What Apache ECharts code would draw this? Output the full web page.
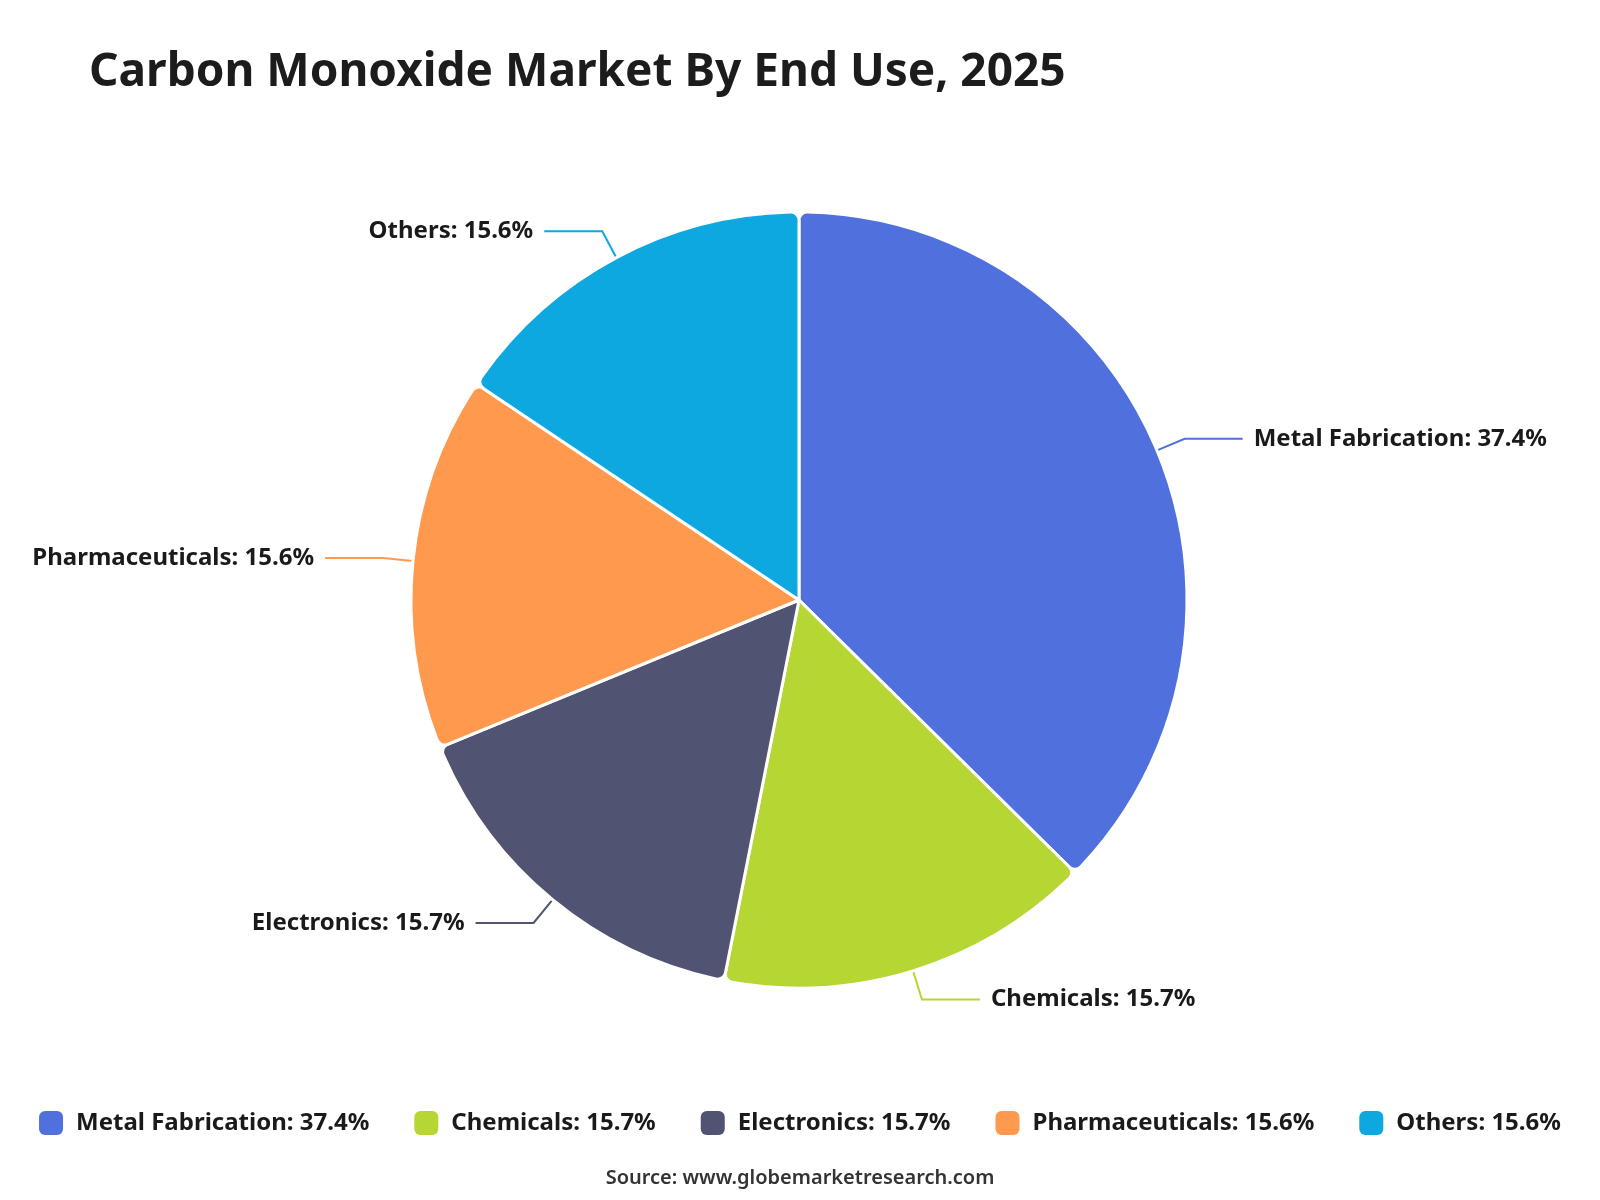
<!DOCTYPE html>
<html><head><meta charset="utf-8">
<script src="https://cdn.jsdelivr.net/npm/echarts@6/dist/echarts.min.js"></script>
<style>html,body{margin:0;padding:0;background:#fff}#c{width:1600px;height:1200px}</style>
</head><body><div id="c"></div>
<script>
const categories = ["Metal Fabrication", "Chemicals", "Electronics", "Pharmaceuticals", "Others"];
const shares = [37.4, 15.7, 15.7, 15.6, 15.6];
const colors = ["#5070dd", "#b6d634", "#505372", "#ff994d", "#0ca8df"];
const titleText = "Carbon Monoxide Market By End Use, 2025";
const sourceText = "Source: www.globemarketresearch.com";

const FONT = "'Noto Sans', 'Open Sans', sans-serif";
const chart = echarts.init(document.getElementById('c'), null, {renderer: 'canvas'});
const data = categories.map((c, i) => ({name: c, value: shares[i], itemStyle: {color: colors[i]}, labelLine: {lineStyle: {color: colors[i]}}}));
chart.setOption({
  animation: false,
  backgroundColor: '#ffffff',
  title: [
    {text: titleText, left: 84, top: 45, textStyle: {fontFamily: FONT, fontSize: 46, fontWeight: 'bold', color: '#1c1c1c'}},
    {text: sourceText, left: 'center', top: 1163, textStyle: {fontFamily: FONT, fontSize: 20, fontWeight: 600, color: '#333'}}
  ],
  legend: {
    bottom: 60, left: 'center', icon: 'roundRect', itemWidth: 24, itemHeight: 24, itemGap: 45,
    itemStyle: {borderWidth: 0},
    textStyle: {fontFamily: FONT, fontSize: 24, fontWeight: 'bold', color: '#1a1a1a', padding: [0, 0, 0, 8]},
    formatter: name => name + ': ' + shares[categories.indexOf(name)].toFixed(1) + '%'
  },
  series: [{
    type: 'pie',
    center: [799, 600],
    radius: 388,
    startAngle: 90,
    clockwise: true,
    itemStyle: {borderColor: '#fff', borderWidth: 3, borderRadius: 8},
    label: {show: true, distanceToLabelLine: 11, formatter: p => p.name + ': ' + p.value.toFixed(1) + '%', fontFamily: FONT, fontSize: 24, fontWeight: 'bold', color: '#1a1a1a'},
    labelLine: {length: 30, length2: 58, lineStyle: {width: 2}},
    emphasis: {disabled: true},
    data: data
  }]
});
</script></body></html>
